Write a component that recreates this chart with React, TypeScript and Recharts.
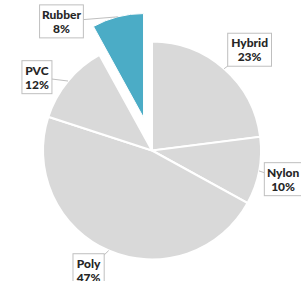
import React from "react";
import { PieChart, Pie, Cell } from "recharts";

// slice values, clockwise from 12 o'clock
const categories = ["Hybrid", "Nylon", "Poly", "PVC", "Rubber"];
const values = [23, 10, 47, 12, 8];
const explodedName = "Rubber";

const data = categories.map((name, i) => ({ name, value: values[i] }));

const CX = 147;
const CY = 145.5;
const RADIUS = 109;
const EXPLODE = 34;

// nudges for the callout boxes, relative to a point outside the arc
const labelNudge: Record<string, { dx: number; dy: number }> = {
  Hybrid: { dx: 7, dy: 2 },
  Nylon: { dx: -3.5, dy: 3 },
  Poly: { dx: -9, dy: -6 },
  PVC: { dx: -9.5, dy: 14 },
  Rubber: { dx: -48, dy: 36.5 },
};

const total = values.reduce((a, b) => a + b, 0);
const explodedIndex = categories.indexOf(explodedName);
const before = values.slice(0, explodedIndex).reduce((a, b) => a + b, 0);
const explodedMid = ((before + values[explodedIndex] / 2) / total) * 2 * Math.PI;
const explodedCx = CX + EXPLODE * Math.sin(explodedMid);
const explodedCy = CY - EXPLODE * Math.cos(explodedMid);

const RADIAN = Math.PI / 180;
const FONT = "Lato, 'Open Sans', sans-serif";

const renderCallout = (show: (name: string) => boolean) => (props: any) => {
  const { cx, cy, midAngle, outerRadius, percent, name } = props;
  if (!show(name)) return null;
  const cos = Math.cos(-midAngle * RADIAN);
  const sin = Math.sin(-midAngle * RADIAN);
  const ax = cx + outerRadius * cos;
  const ay = cy + outerRadius * sin;
  const nudge = labelNudge[name] || { dx: 0, dy: 0 };
  const bx = cx + 137 * cos + nudge.dx;
  const by = cy + 137 * sin + nudge.dy;
  const w = Math.max(30, name.length * 6.3 + 6);
  const h = 33;
  return (
    <g>
      <line x1={ax} y1={ay} x2={bx} y2={by} stroke="#bfbfbf" strokeWidth={1} />
      <rect
        x={bx - w / 2}
        y={by - h / 2}
        width={w}
        height={h}
        fill="#ffffff"
        stroke="#bfbfbf"
        strokeWidth={1}
      />
      <text
        x={bx}
        y={by - 2.5}
        textAnchor="middle"
        fill="#262626"
        fontFamily={FONT}
        fontWeight={900}
        fontSize={12}
      >
        {name}
      </text>
      <text
        x={bx}
        y={by + 11.5}
        textAnchor="middle"
        fill="#262626"
        fontFamily={FONT}
        fontWeight={900}
        fontSize={12}
      >
        {`${Math.round(percent * 100)}%`}
      </text>
    </g>
  );
};

const App: React.FC = () => {
  return (
    <div style={{ position: "absolute", left: 0, top: 0, background: "#fff" }}>
      <PieChart width={301} height={281}>
        <Pie
          data={data}
          dataKey="value"
          nameKey="name"
          cx={CX}
          cy={CY}
          outerRadius={RADIUS}
          startAngle={90}
          endAngle={-270}
          labelLine={false}
          label={renderCallout((n) => n !== explodedName)}
          isAnimationActive={false}
        >
          {data.map((entry, index) => (
            <Cell
              key={`cell-${index}`}
              fill={entry.name === explodedName ? "none" : "#d9d9d9"}
              stroke={entry.name === explodedName ? "none" : "#ffffff"}
              strokeWidth={2}
            />
          ))}
        </Pie>
        <Pie
          data={data}
          dataKey="value"
          nameKey="name"
          cx={explodedCx}
          cy={explodedCy}
          outerRadius={104}
          startAngle={90}
          endAngle={-270}
          labelLine={false}
          label={renderCallout((n) => n === explodedName)}
          isAnimationActive={false}
        >
          {data.map((entry, index) => (
            <Cell
              key={`ex-${index}`}
              fill={entry.name === explodedName ? "#4bacc6" : "none"}
              stroke={entry.name === explodedName ? "#ffffff" : "none"}
              strokeWidth={entry.name === explodedName ? 1 : 0}
            />
          ))}
        </Pie>
      </PieChart>
    </div>
  );
};

export default App;
